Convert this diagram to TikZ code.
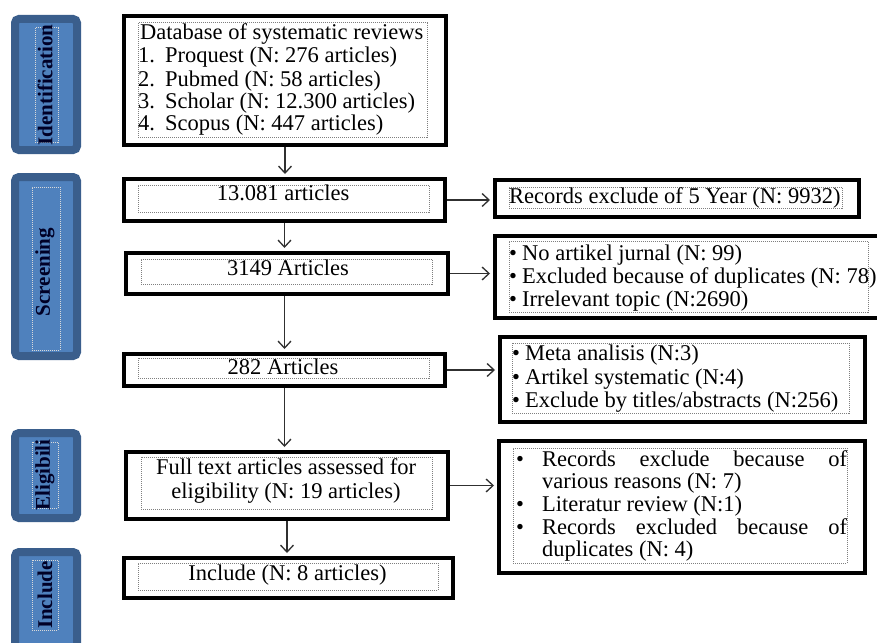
\documentclass[tikz,border=0pt]{standalone}
\usepackage{fontspec}
\setmainfont{Liberation Serif}
\usetikzlibrary{arrows.meta,calc}
\definecolor{lblout}{HTML}{3A5E8C}
\definecolor{lblin}{HTML}{4F81BD}
\definecolor{dotgray}{HTML}{7F7F7F}
\definecolor{arrgray}{HTML}{303030}
\begin{document}
\begin{tikzpicture}[x=1pt,y=-1pt,
  mbox/.style={draw=black, line width=4pt, fill=white, inner sep=0pt},
  dbox/.style={draw=dotgray, densely dotted, line width=1pt, inner sep=0pt},
  lbox/.style={draw=lblout, fill=lblin, line width=8pt, rounded corners=4pt, inner sep=0pt},
  ldbox/.style={draw=white!70!gray, densely dotted, line width=1pt, inner sep=0pt},
  ltxt/.style={rotate=90, inner sep=0pt, font=\fontsize{21}{22}\selectfont\bfseries, text=black!85!blue},
  txt/.style={inner sep=0pt, anchor=base west, font=\fontsize{22.5}{23}\selectfont},
  ctxt/.style={inner sep=0pt, anchor=base, font=\fontsize{22.5}{23}\selectfont},
  arr/.style={draw=arrgray, line width=1.3pt, -{Straight Barb[length=7pt,width=13pt]}, shorten >=3pt}
]
\clip (0,0) rectangle (877,642);
\fill[white] (0,0) rectangle (877,642);

% stage labels
\node[lbox, minimum width=62, minimum height=131] (L1) at (46,84.5) {};
\node[ldbox, minimum width=23, minimum height=114] (L1d) at (46.5,85) {};
\node[ltxt] (L1t) at (45,85) {Identification};

\node[lbox, minimum width=62, minimum height=179] (L2) at (46,266.5) {};
\node[ldbox, minimum width=28, minimum height=163] (L2d) at (46,268.5) {};
\node[ltxt] (L2t) at (45,272) {Screening};

\node[lbox, minimum width=62, minimum height=85] (L3) at (46,475.5) {};
\node[ldbox, minimum width=26, minimum height=66] (L3d) at (45,475) {};
\node[ltxt] (L3t) at (45,475) {Eligibili};

\node[lbox, minimum width=62, minimum height=113] (L4) at (46,608.5) {};
\node[ldbox, minimum width=26, minimum height=70] (L4d) at (45,595) {};
\node[ltxt] (L4t) at (45,595) {Include};

% main column
\node[mbox, minimum width=322, minimum height=129] (db) at (285,80.5) {};
\node[dbox, minimum width=289, minimum height=114] (dbi) at (282.5,80) {};
\node[txt] (db0) at (140,40) {Database of systematic reviews};
\node[txt] (db1n) at (138,63) {1.};
\node[txt] (db1) at (165,63) {Proquest (N: 276 articles)};
\node[txt] (db2n) at (138,86) {2.};
\node[txt] (db2) at (165,86) {Pubmed (N: 58 articles)};
\node[txt] (db3n) at (138,108) {3.};
\node[txt] (db3) at (165,108) {Scholar (N: 12.300 articles)};
\node[txt] (db4n) at (138,130) {4.};
\node[txt] (db4) at (165,130) {Scopus (N: 447 articles)};

\node[mbox, minimum width=321, minimum height=42] (n1) at (284.5,200) {};
\node[dbox, minimum width=291, minimum height=27] (n1i) at (283.5,198.5) {};
\node[ctxt] (n1t) at (283,200) {13.081 articles};

\node[mbox, minimum width=322, minimum height=41] (n2) at (287,273.5) {};
\node[dbox, minimum width=291, minimum height=25] (n2i) at (286.5,271.5) {};
\node[ctxt] (n2t) at (288,275) {3149 Articles};

\node[mbox, minimum width=321, minimum height=32] (n3) at (284.5,370) {};
\node[dbox, minimum width=291, minimum height=20] (n3i) at (283.5,368) {};
\node[ctxt] (n3t) at (283,374) {282 Articles};

\node[mbox, minimum width=322, minimum height=67] (n4) at (287,485.5) {};
\node[dbox, minimum width=291, minimum height=52] (n4i) at (286.5,483) {};
\node[ctxt] (n4t1) at (286,474) {Full text articles assessed for};
\node[ctxt] (n4t2) at (286,498) {eligibility (N: 19 articles)};

\node[mbox, minimum width=329, minimum height=40] (n5) at (288.5,578) {};
\node[dbox, minimum width=300, minimum height=27] (n5i) at (288,576.5) {};
\node[ctxt] (n5t) at (287.5,580) {Include (N: 8 articles)};

% right column
\node[mbox, minimum width=364, minimum height=37] (r1) at (677,198.5) {};
\node[dbox, minimum width=333, minimum height=21] (r1i) at (675.5,197.5) {};
\node[txt] (r1t) at (509,203) {Records exclude of 5 Year (N: 9932)};

\node[mbox, minimum width=388, minimum height=82] (r2) at (689,277) {};
\node[dbox, minimum width=359, minimum height=71] (r2i) at (688.5,276.5) {};
\node[txt] (r2b1) at (509,260) {\textbullet};
\node[txt] (r2t1) at (522,260) {No artikel jurnal (N: 99)};
\node[txt] (r2b2) at (509,283) {\textbullet};
\node[txt] (r2t2) at (522,283) {Excluded because of duplicates (N: 78)};
\node[txt] (r2b3) at (509,306) {\textbullet};
\node[txt] (r2t3) at (522,306) {Irrelevant topic (N:2690)};

\node[mbox, minimum width=365, minimum height=85] (r3) at (682.5,379.5) {};
\node[dbox, minimum width=337, minimum height=70] (r3i) at (680.5,378) {};
\node[txt] (r3b1) at (512,360) {\textbullet};
\node[txt] (r3t1) at (525,360) {Meta analisis (N:3)};
\node[txt] (r3b2) at (512,384) {\textbullet};
\node[txt] (r3t2) at (525,384) {Artikel systematic (N:4)};
\node[txt] (r3b3) at (512,407) {\textbullet};
\node[txt] (r3t3) at (525,407) {Exclude by titles/abstracts (N:256)};

\node[mbox, minimum width=366, minimum height=132] (r4) at (682,507) {};
\node[dbox, minimum width=334, minimum height=115] (r4i) at (680,505.5) {};
\node[txt] (r4b1) at (516,466) {\textbullet};
\node[txt] (r4t1) at (542,466) {\makebox[305pt][s]{Records exclude because of}};
\node[txt] (r4t2) at (542,488) {various reasons (N: 7)};
\node[txt] (r4b2) at (516,511) {\textbullet};
\node[txt] (r4t3) at (542,511) {Literatur review (N:1)};
\node[txt] (r4b3) at (516,534) {\textbullet};
\node[txt] (r4t4) at (542,534) {\makebox[305pt][s]{Records excluded because of}};
\node[txt] (r4t5) at (542,556) {duplicates (N: 4)};

% connectors
\draw[arr] (db.south) -- (db.south |- n1.north);
\draw[arr] (n1.south) -- (n1.south |- n2.north);
\draw[arr] (n2.south -| n3.north) -- (n3.north);
\draw[arr] (n3.south) -- (n3.south |- n4.north);
\draw[arr] (n4.south) -- (n4.south |- n5.north);

\draw[arr] (n1.east) -- (n1.east -| r1.west);
\draw[arr] (n2.east) -- (n2.east -| r2.west);
\draw[arr] (n3.east) -- (n3.east -| r3.west);
\draw[arr] (n4.east) -- (n4.east -| r4.west);
\end{tikzpicture}
\end{document}
